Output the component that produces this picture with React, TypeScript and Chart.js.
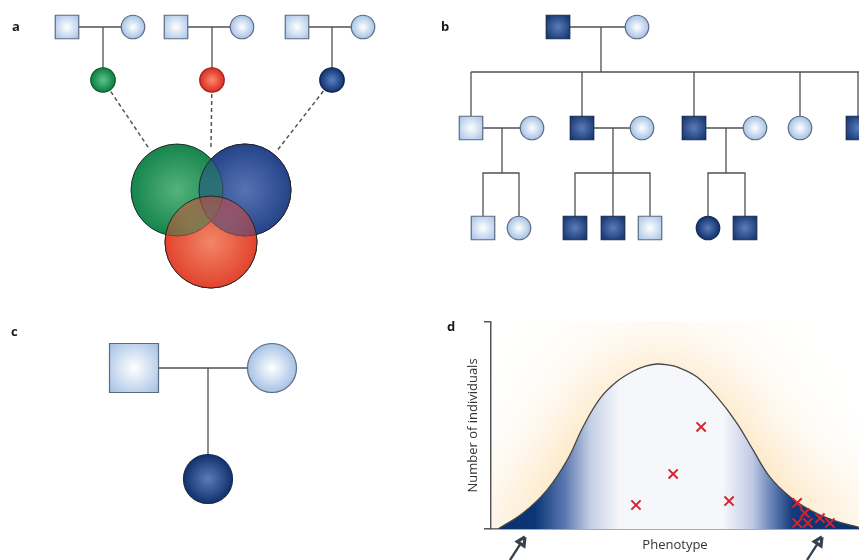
import React, { useEffect, useRef } from 'react';
import { Chart, registerables } from 'chart.js';

Chart.register(...registerables);

// ---------------- data ----------------
type Person = { x: number; y: number; sex: 'M' | 'F'; status: string };
type Seg = number[][];

// Panel a: three unaffected couples, each with one affected child (green / red / blue)
const A_PARENTS: Person[] = [
  { x: 67, y: 27, sex: 'M', status: 'u' },
  { x: 133, y: 27, sex: 'F', status: 'u' },
  { x: 176, y: 27, sex: 'M', status: 'u' },
  { x: 242, y: 27, sex: 'F', status: 'u' },
  { x: 297, y: 27, sex: 'M', status: 'u' },
  { x: 363, y: 27, sex: 'F', status: 'u' },
];
const A_CHILDREN: Person[] = [
  { x: 103, y: 80, sex: 'F', status: 'green' },
  { x: 212, y: 80, sex: 'F', status: 'red' },
  { x: 332, y: 80, sex: 'F', status: 'blue' },
];
const A_LINKS: Seg[] = [
  [[67, 27], [133, 27]], [[103, 27], [103, 80]],
  [[176, 27], [242, 27]], [[212, 27], [212, 80]],
  [[297, 27], [363, 27]], [[332, 27], [332, 80]],
];
const A_DASHES: Seg[] = [
  [[103, 80], [150, 150]],
  [[212, 80], [211, 147]],
  [[332, 80], [276, 152]],
];
const VENN_X = [177, 245, 211];
const VENN_Y = [190, 190, 242];
const VENN_GROUP = ['green', 'blue', 'red'];

// Panel b: multi-generation pedigree
const B_PEOPLE: Person[] = [
  { x: 128, y: 27, sex: 'M', status: 'a' },
  { x: 207, y: 27, sex: 'F', status: 'u' },
  { x: 41, y: 128, sex: 'M', status: 'u' },
  { x: 102, y: 128, sex: 'F', status: 'u' },
  { x: 152, y: 128, sex: 'M', status: 'a' },
  { x: 212, y: 128, sex: 'F', status: 'u' },
  { x: 264, y: 128, sex: 'M', status: 'a' },
  { x: 325, y: 128, sex: 'F', status: 'u' },
  { x: 370, y: 128, sex: 'F', status: 'u' },
  { x: 428, y: 128, sex: 'M', status: 'a' },
  { x: 53, y: 228, sex: 'M', status: 'u' },
  { x: 89, y: 228, sex: 'F', status: 'u' },
  { x: 145, y: 228, sex: 'M', status: 'a' },
  { x: 183, y: 228, sex: 'M', status: 'a' },
  { x: 220, y: 228, sex: 'M', status: 'u' },
  { x: 278, y: 228, sex: 'F', status: 'a' },
  { x: 315, y: 228, sex: 'M', status: 'a' },
];
const B_LINKS: Seg[] = [
  [[128, 27], [207, 27]], [[171, 27], [171, 72]], [[41, 72], [440, 72]],
  [[41, 72], [41, 128]], [[152, 72], [152, 128]], [[264, 72], [264, 128]],
  [[370, 72], [370, 128]], [[428, 72], [428, 128]],
  [[41, 128], [102, 128]], [[72, 128], [72, 173]],
  [[53, 228], [53, 173], [89, 173], [89, 228]],
  [[152, 128], [212, 128]], [[183, 128], [183, 228]],
  [[145, 228], [145, 173], [220, 173], [220, 228]],
  [[264, 128], [325, 128]], [[296, 128], [296, 173]],
  [[278, 228], [278, 173], [315, 173], [315, 228]],
];

// Panel c: unaffected parents, affected daughter
const C_PEOPLE: Person[] = [
  { x: 134, y: 68, sex: 'M', status: 'u' },
  { x: 272, y: 68, sex: 'F', status: 'u' },
  { x: 208, y: 179, sex: 'F', status: 'a' },
];
const C_LINKS: Seg[] = [
  [[134, 68], [272, 68]], [[208, 68], [208, 179]],
];

// Panel d: phenotype distribution (x: phenotype 0-100, y: relative number of individuals)
const CURVE_X = [1.9, 8.7, 15.2, 20.7, 25.0, 29.6, 34.2, 38.6, 42.0, 45.1, 48.0, 50.5, 56.0, 61.4, 66.8, 71.2, 75.8, 81.3, 86.7, 92.9, 100];
const CURVE_Y = [0, 0.077, 0.188, 0.333, 0.493, 0.63, 0.712, 0.762, 0.787, 0.797, 0.793, 0.783, 0.734, 0.638, 0.512, 0.382, 0.251, 0.155, 0.092, 0.043, 0.008];
const CROSS_X = [39.4, 49.5, 57.1, 64.7, 83.2, 85.3, 83.2, 86.1, 89.4, 92.1];
const CROSS_Y = [0.116, 0.266, 0.493, 0.135, 0.126, 0.077, 0.029, 0.029, 0.053, 0.029];
// arrows under the x axis pointing at the two tails: shaft + head outline
const ARROW_SHAFTS: Seg[] = [
  [[5.16, -0.15], [8.04, -0.071]],
  [[85.87, -0.15], [88.75, -0.071]],
];
const ARROW_HEADS: Seg[] = [
  [[9.24, -0.0386], [7.15, -0.0604], [8.97, -0.0817], [9.24, -0.0386]],
  [[89.95, -0.0386], [87.86, -0.0604], [89.68, -0.0817], [89.95, -0.0386]],
];

// ---------------- styles ----------------
const PALETTE: Record<string, string[]> = {
  u: ['#ffffff', '#a2c0e5', '#5c6b80'],
  a: ['#5a7cb8', '#0d2e69', '#182c52'],
  green: ['#5cc58c', '#0a7a3e', '#0a5a2e'],
  red: ['#ff8a6c', '#d5291f', '#9b1f17'],
  blue: ['#5a80c2', '#0e2f6b', '#0a2250'],
};
const VENN_FILL: Record<string, number[][]> = {
  green: [[86, 178, 124], [20, 132, 76]],
  blue: [[86, 116, 180], [36, 66, 136]],
  red: [[242, 134, 104], [226, 66, 44]],
};
const LINE_COLOR = '#505050';
const FONT = '"Open Sans", "DejaVu Sans", sans-serif';

function pixelOf(c: any): number[] | null {
  const raw = c.raw;
  const chart = c.chart;
  if (!raw || !chart || !chart.scales || !chart.scales.x || !chart.scales.y) return null;
  const px = chart.scales.x.getPixelForValue(raw.x);
  const py = chart.scales.y.getPixelForValue(raw.y);
  if (!Number.isFinite(px) || !Number.isFinite(py)) return null;
  return [px, py];
}

function nodeDataset(people: Person[], size: number, order: number) {
  const isM = (c: any) => c.raw && c.raw.sex === 'M';
  return {
    type: 'scatter',
    data: people,
    order,
    clip: false,
    showLine: false,
    pointStyle: (c: any) => (isM(c) ? 'rect' : 'circle'),
    pointRadius: (c: any) => (isM(c) ? (size / 2) * Math.SQRT2 : size / 2),
    pointHoverRadius: (c: any) => (isM(c) ? (size / 2) * Math.SQRT2 : size / 2),
    pointBorderWidth: 1.2,
    pointBorderColor: (c: any) => (PALETTE[(c.raw && c.raw.status) || 'u'] || PALETTE.u)[2],
    pointBackgroundColor: (c: any) => {
      const pal = PALETTE[(c.raw && c.raw.status) || 'u'] || PALETTE.u;
      const p = pixelOf(c);
      if (!p) return pal[1];
      const r = isM(c) ? size * 0.7 : size * 0.52;
      const g = c.chart.ctx.createRadialGradient(p[0], p[1], 0, p[0], p[1], r);
      g.addColorStop(0, pal[0]);
      g.addColorStop(1, pal[1]);
      return g;
    },
  };
}

function segDatasets(segs: Seg[], order: number, dash: number[] = [], color = LINE_COLOR, width = 1.3) {
  return segs.map((s) => ({
    type: 'scatter',
    data: s.map(([x, y]) => ({ x, y })),
    showLine: true,
    borderColor: color,
    borderWidth: width,
    borderDash: dash,
    borderJoinStyle: 'miter',
    pointRadius: 0,
    pointHoverRadius: 0,
    order,
    clip: false,
  }));
}

// venn circle: one pass drawn behind what is already there, one translucent pass on top
function vennDataset(i: number, order: number, alpha: number, composite?: string) {
  const group = VENN_GROUP[i];
  return {
    type: 'scatter',
    data: [{ x: VENN_X[i], y: VENN_Y[i] }],
    order,
    clip: false,
    composite,
    pointStyle: 'circle',
    pointRadius: 46,
    pointHoverRadius: 46,
    pointBorderWidth: 1,
    pointBorderColor: 'rgba(35,35,35,0.95)',
    pointBackgroundColor: (c: any) => {
      const [inner, outer] = VENN_FILL[group];
      const p = pixelOf(c);
      if (!p) return `rgba(${outer.join(',')},${alpha})`;
      const g = c.chart.ctx.createRadialGradient(p[0], p[1], 0, p[0], p[1], 47);
      g.addColorStop(0, `rgba(${inner.join(',')},${alpha})`);
      g.addColorStop(1, `rgba(${outer.join(',')},${alpha})`);
      return g;
    },
  };
}

const compositePlugin = {
  id: 'composite',
  beforeDatasetDraw(chart: any, args: any) {
    const op = chart.data.datasets[args.index].composite;
    chart.ctx.globalCompositeOperation = op || 'source-over';
  },
  afterDatasetDraw(chart: any) {
    chart.ctx.globalCompositeOperation = 'source-over';
  },
};

function labelPlugin(text: string, x: number, y: number) {
  return {
    id: 'panelLabel',
    afterDraw(chart: any) {
      const c = chart.ctx;
      c.save();
      c.font = `bold 13px ${FONT}`;
      c.fillStyle = '#1a1a1a';
      c.textBaseline = 'middle';
      c.textAlign = 'left';
      c.fillText(text, x, y);
      c.restore();
    },
  };
}

function diagramConfig(w: number, h: number, datasets: any[], label: any) {
  return {
    type: 'scatter',
    data: { datasets },
    options: {
      animation: false,
      responsive: false,
      devicePixelRatio: 1,
      events: [],
      layout: { padding: 0, autoPadding: false },
      plugins: { legend: { display: false }, tooltip: { enabled: false } },
      scales: {
        x: { type: 'linear', display: false, min: 0, max: w },
        y: { type: 'linear', display: false, min: 0, max: h, reverse: true },
      },
    },
    plugins: [compositePlugin, label],
  } as any;
}

function buildA() {
  return diagramConfig(430, 300, [
    vennDataset(0, 5, 1),
    vennDataset(1, 4, 1, 'destination-over'),
    vennDataset(1, 3, 0.5),
    vennDataset(2, 2, 1, 'destination-over'),
    vennDataset(2, 1, 0.5),
    nodeDataset(A_PARENTS, 23.5, 8),
    nodeDataset(A_CHILDREN, 24.5, 8),
    ...segDatasets(A_LINKS, 9),
    ...segDatasets(A_DASHES, 9, [4, 3], '#555555', 1.5),
  ], labelPlugin('a', 12, 27));
}

function buildB() {
  return diagramConfig(429, 300, [
    nodeDataset(B_PEOPLE, 23.5, 0),
    ...segDatasets(B_LINKS, 1),
  ], labelPlugin('b', 11, 27));
}

function buildC() {
  return diagramConfig(440, 260, [
    nodeDataset(C_PEOPLE, 49, 0),
    ...segDatasets(C_LINKS, 1),
  ], labelPlugin('c', 11, 32));
}

// soft peach halo around the distribution, traced from the curve element itself
const glowPlugin = {
  id: 'glow',
  beforeDatasetsDraw(chart: any) {
    const meta = chart.getDatasetMeta(0);
    const line = meta && meta.dataset;
    const a = chart.chartArea;
    if (!line || !a || !line.points || !line.points.length) return;
    const pts = line.points;
    const ctx = chart.ctx;
    const base = chart.scales.y.getPixelForValue(0);
    ctx.save();
    ctx.beginPath();
    ctx.rect(a.left, a.top, a.right - a.left, a.bottom - a.top);
    ctx.clip();
    ctx.shadowColor = 'rgba(250, 208, 140, 0.85)';
    ctx.shadowBlur = 95;
    ctx.fillStyle = 'rgba(253, 230, 190, 1)';
    ctx.beginPath();
    line.path(ctx);
    ctx.lineTo(pts[pts.length - 1].x, base + 40);
    ctx.lineTo(pts[0].x, base + 40);
    ctx.closePath();
    ctx.fill();
    ctx.restore();
  },
};

function buildD() {
  const curve = {
    type: 'line',
    data: CURVE_X.map((x, i) => ({ x, y: CURVE_Y[i] })),
    order: 3,
    borderColor: '#474747',
    borderWidth: 1.3,
    pointRadius: 0,
    pointHoverRadius: 0,
    tension: 0.4,
    fill: 'origin',
    backgroundColor: (c: any) => {
      const chart = c.chart;
      const a = chart.chartArea;
      if (!a || !Number.isFinite(a.left) || !Number.isFinite(a.right)) return '#c8d2e8';
      const g = chart.ctx.createLinearGradient(a.left, 0, a.right, 0);
      const stops: [number, string][] = [
        [0, '#08306b'], [0.12, '#0b3676'], [0.2, '#5a78b0'], [0.27, '#c4cfe6'],
        [0.35, '#f6f7fb'], [0.63, '#f6f7fb'], [0.71, '#bfcae3'], [0.77, '#5b78b1'],
        [0.82, '#12397a'], [1, '#08306b'],
      ];
      stops.forEach(([o, col]) => g.addColorStop(o, col));
      return g;
    },
  };
  const crosses = {
    type: 'line',
    data: CROSS_X.map((x, i) => ({ x, y: CROSS_Y[i] })),
    order: 1,
    showLine: false,
    pointStyle: 'crossRot',
    pointRadius: 6.5,
    pointHoverRadius: 6.5,
    pointBorderColor: '#d8232e',
    pointBorderWidth: 2,
    clip: false,
  };
  const arrowColor = '#36434f';
  const arrows = [
    ...segDatasets(ARROW_SHAFTS, 0, [], arrowColor, 2.4),
    ...segDatasets(ARROW_HEADS, 0, [], arrowColor, 3.2),
  ].map((d) => ({ ...d, type: 'line' }));
  const titleFont = { family: FONT, size: 13 };
  return {
    type: 'line',
    data: { datasets: [curve, crosses, ...arrows] },
    options: {
      animation: false,
      responsive: false,
      devicePixelRatio: 1,
      events: [],
      layout: { padding: { top: 22, right: 0, left: 0, bottom: 0 }, autoPadding: false },
      plugins: { legend: { display: false }, tooltip: { enabled: false } },
      scales: {
        x: {
          type: 'linear', min: 0, max: 100,
          ticks: { display: false },
          grid: { display: false },
          border: { display: true, color: '#555555', width: 1.5 },
          title: { display: true, text: 'Phenotype', color: '#333333', font: titleFont, padding: { top: 0, bottom: 7 } },
          afterFit: (s: any) => { s.height = 31; },
        },
        y: {
          type: 'linear', min: 0, max: 1,
          ticks: { display: false, stepSize: 1 },
          grid: { display: true, drawOnChartArea: false, drawTicks: true, tickLength: 7, color: '#555555', lineWidth: 1.5 },
          border: { display: true, color: '#555555', width: 1.5 },
          title: { display: true, text: 'Number of individuals', color: '#333333', font: titleFont, padding: { top: 25, bottom: 0 } },
          afterFit: (s: any) => { s.width = 51; },
        },
      },
    },
    plugins: [glowPlugin, labelPlugin('d', 7, 27)],
  } as any;
}

function ChartPanel(props: { left: number; top: number; width: number; height: number; build: () => any }) {
  const ref = useRef<HTMLCanvasElement>(null);
  useEffect(() => {
    const chart = new Chart(ref.current as HTMLCanvasElement, props.build());
    return () => chart.destroy();
  }, []);
  return (
    <canvas
      ref={ref}
      width={props.width}
      height={props.height}
      style={{ position: 'absolute', left: props.left, top: props.top, width: props.width, height: props.height }}
    />
  );
}

export default function App() {
  return (
    <div style={{ position: 'fixed', left: 0, top: 0, width: 859, height: 560, background: '#ffffff', overflow: 'hidden' }}>
      <ChartPanel left={0} top={0} width={430} height={300} build={buildA} />
      <ChartPanel left={430} top={0} width={429} height={300} build={buildB} />
      <ChartPanel left={0} top={300} width={440} height={260} build={buildC} />
      <ChartPanel left={440} top={300} width={419} height={260} build={buildD} />
    </div>
  );
}
